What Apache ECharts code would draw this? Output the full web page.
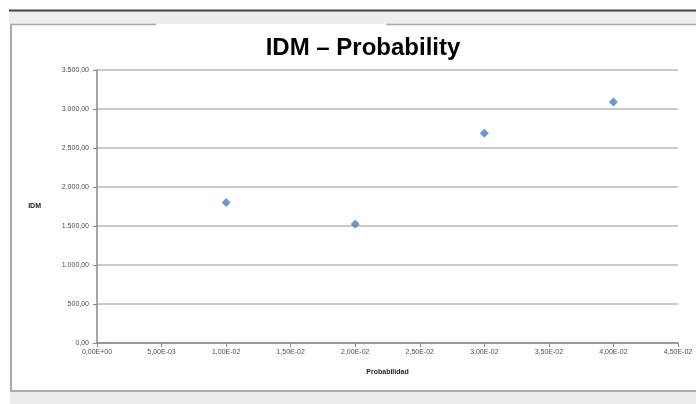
<!DOCTYPE html>
<html>
<head>
<meta charset="utf-8">
<script src="https://cdn.jsdelivr.net/npm/echarts@6/dist/echarts.min.js"></script>
<style>html,body{margin:0;padding:0;background:#fff}#c{width:696px;height:404px}</style>
</head>
<body>
<div id="c"></div>
<script>
var probability = [0.01, 0.02, 0.03, 0.04];
var idm = [1800, 1525, 2690, 3090];
var xTickLabels = ["0,00E+00","5,00E-03","1,00E-02","1,50E-02","2,00E-02","2,50E-02","3,00E-02","3,50E-02","4,00E-02","4,50E-02"];
var yTickLabels = ["0,00","500,00","1.000,00","1.500,00","2.000,00","2.500,00","3.000,00","3.500,00"];

var chart = echarts.init(document.getElementById('c'), null, {renderer:'canvas'});
var pts = probability.map(function(p,i){return [p, idm[i]];});
var font = 'Liberation Sans, Arial, sans-serif';
chart.setOption({
  animation:false,
  backgroundColor:'#ffffff',
  graphic:[
    {type:'rect', shape:{x:9,y:10,width:687,height:14}, style:{fill:'#ededed'}, z:-10},
    {type:'rect', shape:{x:10,y:392,width:686,height:12}, style:{fill:'#ededed'}, z:-10},
    {type:'line', shape:{x1:9,y1:10.5,x2:696,y2:10.5}, style:{stroke:'#444',lineWidth:2}},
    {type:'line', shape:{x1:10,y1:24.5,x2:156,y2:24.5}, style:{stroke:'#aaa',lineWidth:1.5}},
    {type:'line', shape:{x1:386,y1:24.5,x2:696,y2:24.5}, style:{stroke:'#aaa',lineWidth:1.5}},
    {type:'line', shape:{x1:11,y1:24,x2:11,y2:391}, style:{stroke:'#aaa',lineWidth:2}},
    {type:'line', shape:{x1:10,y1:391,x2:696,y2:391}, style:{stroke:'#aaa',lineWidth:2}}
  ],
  title:{
    text:'IDM – Probability', left:358, top:31, textAlign:'center',
    textStyle:{fontFamily:font, fontSize:24, fontWeight:'bold', color:'#000'}
  },
  grid:{left:97, right:18, top:70, bottom:61, containLabel:false},
  xAxis:{
    type:'value', min:0, max:0.045, interval:0.005,
    name:'Probabilidad', nameLocation:'middle', nameGap:26,
    nameTextStyle:{fontFamily:font, fontSize:7, fontWeight:'bold', color:'#222'},
    axisLine:{show:true, lineStyle:{color:'#888', width:1.5}},
    axisTick:{show:true, length:4, lineStyle:{color:'#888'}},
    splitLine:{show:false},
    axisLabel:{fontFamily:font, fontSize:7, color:'#4a4a6a', margin:6,
      formatter:function(v){var i=Math.round(v/0.005);return xTickLabels[i]||'';}}
  },
  yAxis:{
    type:'value', min:0, max:3500, interval:500,
    name:'IDM', nameLocation:'middle', nameGap:56, nameRotate:0,
    nameTextStyle:{fontFamily:font, fontSize:7, fontWeight:'bold', color:'#222'},
    axisLine:{show:true, lineStyle:{color:'#888', width:1.5}},
    axisTick:{show:true, length:4, lineStyle:{color:'#888'}},
    splitLine:{show:true, lineStyle:{color:'#b8b8b8', width:1.5}},
    axisLabel:{fontFamily:font, fontSize:7, color:'#4a4a6a', margin:8,
      formatter:function(v){var i=Math.round(v/500);return yTickLabels[i]||'';}}
  },
  series:[{
    type:'scatter', data:pts, symbol:'diamond', symbolSize:9,
    itemStyle:{color:'#4a7ebb'}
  }]
});
</script>
</body>
</html>
